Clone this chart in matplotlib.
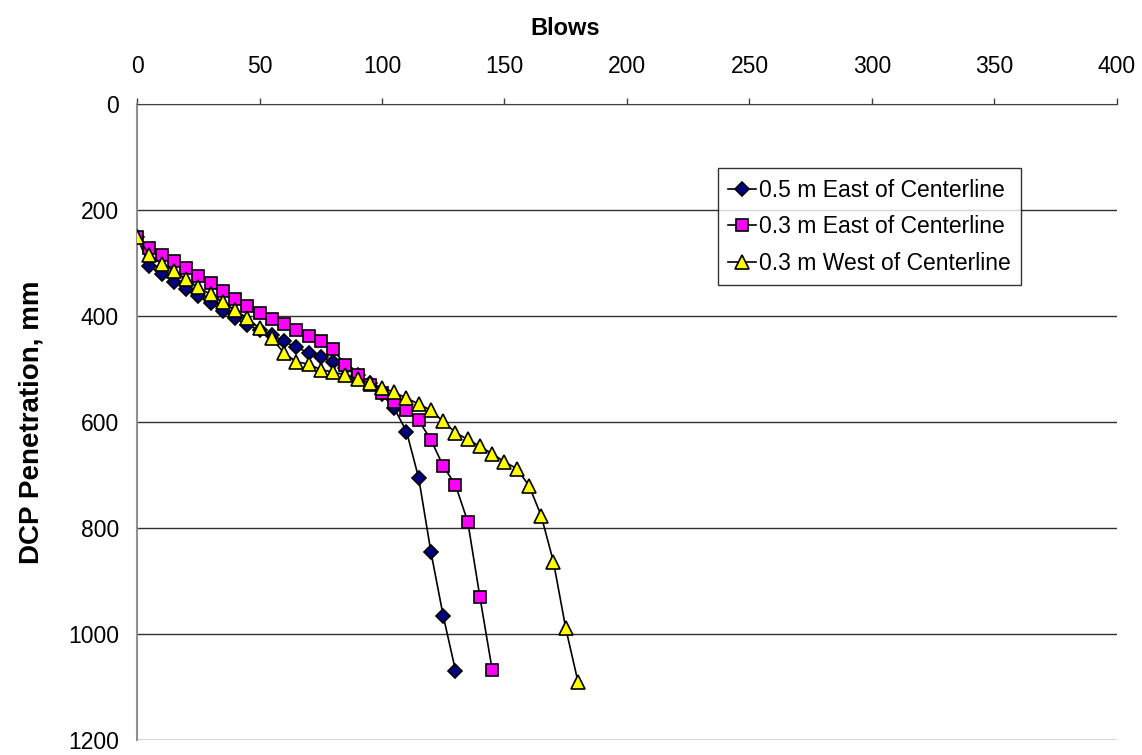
import matplotlib
matplotlib.use('Agg')
import matplotlib.pyplot as plt

# blows (x) and DCP penetration in mm (y)
blows_a = [0, 5, 10, 15, 20, 25, 30, 35, 40, 45, 50, 55, 60, 65, 70, 75, 80, 85, 90, 95,
           100, 105, 110, 115, 120, 125, 130]
pen_a = [250, 306, 321, 335, 349, 362, 376, 390, 404, 417, 427, 436, 448, 459, 469, 477, 487,
         499, 512, 527, 548, 574, 618, 706, 846, 966, 1069]

blows_b = [0, 5, 10, 15, 20, 25, 30, 35, 40, 45, 50, 55, 60, 65, 70, 75, 80, 85, 90, 95,
           100, 105, 110, 115, 120, 125, 130, 135, 140, 145]
pen_b = [250, 272, 284, 296, 310, 324, 338, 352, 367, 381, 395, 406, 416, 426, 438, 448, 463,
         492, 511, 530, 546, 563, 577, 597, 634, 683, 719, 788, 931, 1068]

blows_c = [0, 5, 10, 15, 20, 25, 30, 35, 40, 45, 50, 55, 60, 65, 70, 75, 80, 85, 90, 95,
           100, 105, 110, 115, 120, 125, 130, 135, 140, 145, 150, 155, 160, 165, 170, 175, 180]
pen_c = [250, 284, 301, 315, 330, 346, 359, 373, 389, 404, 423, 442, 470, 486, 491, 501, 506,
         511, 519, 526, 535, 544, 555, 566, 578, 599, 620, 633, 646, 660, 675, 688, 720, 777,
         864, 989, 1090]

labels = ['0.5 m East of Centerline', '0.3 m East of Centerline', '0.3 m West of Centerline']

plt.rcParams['font.family'] = ['Liberation Sans', 'DejaVu Sans']

fig = plt.figure(figsize=(11.42, 7.55), dpi=100)
ax = fig.add_axes([0.12, 0.0199, 0.858, 0.8423])

ax.plot(blows_a, pen_a, color='black', lw=1.2, marker='D', ms=7.5,
        mfc='#000080', mec='black', mew=1.2, label=labels[0], zorder=3)
ax.plot(blows_b, pen_b, color='black', lw=1.2, marker='s', ms=9,
        mfc='#FF00FF', mec='black', mew=1.2, label=labels[1], zorder=3)
ax.plot(blows_c, pen_c, color='black', lw=1.2, marker='^', ms=9.5,
        mfc='#FFFF00', mec='black', mew=1.2, label=labels[2], zorder=3)

ax.set_xlim(0, 400)
ax.set_ylim(1200, 0)
ax.set_xticks(range(0, 401, 50))
ax.set_yticks(range(0, 1201, 200))
ax.xaxis.tick_top()
ax.xaxis.set_label_position('top')
ax.tick_params(axis='x', direction='out', length=4, width=1, color='#404040',
               labelsize=16.5, pad=15)
ax.tick_params(axis='y', length=0, labelsize=16.5, pad=13)

ax.grid(axis='y', color='#303030', lw=1)
ax.set_axisbelow(True)
for s in ['right', 'bottom']:
    ax.spines[s].set_visible(False)
ax.spines['top'].set_color('#404040')
ax.spines['left'].set_color('#909090')
ax.spines['left'].set_linewidth(1.5)

ax.set_xlabel('Blows', fontsize=17, fontweight='bold')
ax.xaxis.set_label_coords(0.437, 1.108)
ax.set_ylabel('DCP Penetration, mm', fontsize=20, fontweight='bold', labelpad=17)

leg = ax.legend(loc='upper left', bbox_to_anchor=(0.593, 0.899), fontsize=16.5,
                frameon=True, fancybox=False, borderpad=0.45, labelspacing=0.6,
                handlelength=1.2, handletextpad=0.15, borderaxespad=0)
leg.get_frame().set_edgecolor('black')
leg.get_frame().set_linewidth(1)

fig.savefig('out.png', dpi=100)
